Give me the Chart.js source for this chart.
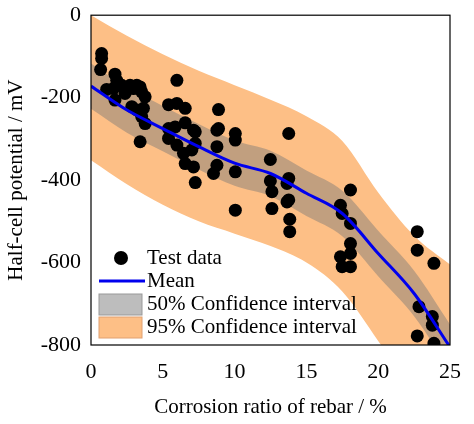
<!DOCTYPE html><html><head><script src="https://cdn.jsdelivr.net/npm/chart.js@4"></script>
<style>body{margin:0;background:#fff}#w{width:474px;height:424px}</style></head><body><div id="w"><canvas id="c"></canvas></div>
<script>
const curveX=[0,2.5,5,7.5,10,12.5,15,17.5,20,22.5,25];
const meanY=[-172,-230,-275,-319,-359,-384,-432,-481,-578,-675,-805];
const band50Half=55;
const upper95=[0,-50,-95,-135,-170,-205,-245,-305,-430,-535,-605];
const lower95=[-352,-410,-460,-500,-530,-560,-600,-670,-790,-920,-1050];
const testX=[0.74,0.74,0.67,1.67,1.79,1.09,1.56,1.67,2.14,2.37,2.72,2.95,3.19,3.42,3.53,3.77,2.84,3.19,3.65,3.53,3.77,3.42,5.98,5.40,5.98,6.56,5.40,5.86,5.40,5.98,6.56,6.44,7.02,7.14,7.26,7.26,6.56,7.14,7.26,8.88,8.77,8.88,8.77,8.77,8.53,10.05,10.05,10.05,10.05,12.49,12.49,12.6,12.6,13.77,13.77,13.65,13.77,13.65,13.84,13.84,17.37,17.49,17.37,17.49,18.07,18.07,18.07,18.07,18.07,22.72,22.72,23.88,22.84,22.72,23.77,23.77,23.88];
const testY=[-93,-105,-132,-143,-158,-180,-178,-206,-170,-190,-170,-178,-170,-174,-186,-198,-222,-230,-226,-246,-263,-307,-158,-217,-214,-226,-275,-271,-299,-315,-261,-335,-327,-279,-283,-311,-360,-368,-406,-229,-279,-275,-319,-364,-384,-287,-303,-380,-473,-350,-402,-428,-469,-287,-396,-408,-448,-453,-495,-525,-461,-481,-586,-610,-424,-505,-554,-578,-610,-525,-570,-602,-707,-778,-731,-752,-796];
const xTicks=[0,5,10,15,20,25], yTicks=[0,-200,-400,-600,-800];
const pts=(xs,ys)=>xs.map((x,i)=>({x,y:ys[i]}));
const F='"Liberation Serif", "Times New Roman", serif';
const legendPlugin={id:'lg',afterDatasetsDraw(ch){const c=ch.ctx,a=ch.chartArea;c.save();
 c.font='21px '+F;c.fillStyle='#000';c.textBaseline='middle';
 const x0=a.left+8,tx=147;let y=258;
 c.beginPath();c.arc(x0+22,y,7,0,2*Math.PI);c.fill();c.fillText('Test data',tx,y);
 y=281;c.strokeStyle='#0000ee';c.lineWidth=3;c.beginPath();c.moveTo(x0,y);c.lineTo(x0+46,y);c.stroke();c.fillStyle='#000';c.fillText('Mean',tx,y);
 y=304;c.fillStyle='#bdbdbd';c.fillRect(x0,y-10,43,21);c.strokeStyle='#999';c.lineWidth=1;c.strokeRect(x0,y-10,43,21);c.fillStyle='#000';c.fillText('50% Confidence interval',tx,y);
 y=327;c.fillStyle='#fdbf86';c.fillRect(x0,y-10,43,21);c.strokeStyle='#e0a070';c.strokeRect(x0,y-10,43,21);c.fillStyle='#000';c.fillText('95% Confidence interval',tx,y);
 c.strokeStyle='#000';c.lineWidth=1.2;c.strokeRect(a.left,a.top,a.right-a.left,a.bottom-a.top);c.restore();}};
new Chart(document.getElementById('c'),{type:'scatter',data:{datasets:[
 {order:6,data:pts(curveX,upper95),showLine:true,pointRadius:0,borderWidth:0,fill:'+1',backgroundColor:'#fdbf86',cubicInterpolationMode:'monotone'},
 {order:5,data:pts(curveX,lower95),showLine:true,pointRadius:0,borderWidth:0,fill:false,cubicInterpolationMode:'monotone'},
 {order:4,data:pts(curveX,meanY.map(v=>v+band50Half)),showLine:true,pointRadius:0,borderWidth:0,fill:'+1',backgroundColor:'rgba(120,120,120,0.45)',cubicInterpolationMode:'monotone'},
 {order:3,data:pts(curveX,meanY.map(v=>v-band50Half)),showLine:true,pointRadius:0,borderWidth:0,fill:false,cubicInterpolationMode:'monotone'},
 {order:2,data:pts(testX,testY),pointRadius:6.5,backgroundColor:'#000',borderWidth:0},
 {order:1,data:pts(curveX,meanY),showLine:true,pointRadius:0,borderColor:'#0000ee',borderWidth:3,fill:false,cubicInterpolationMode:'monotone'}
]},options:{responsive:true,maintainAspectRatio:false,animation:false,
 layout:{padding:{top:15,right:24}},
 plugins:{legend:{display:false},tooltip:{enabled:false}},
 scales:{
  x:{type:'linear',min:0,max:25,afterFit(s){s.height=79},afterBuildTicks(s){s.ticks=xTicks.map(v=>({value:v}))},grid:{display:false},border:{display:false},
   ticks:{color:'#000',font:{family:F,size:22},padding:6},title:{display:true,text:'Corrosion ratio of rebar / %',color:'#000',font:{family:F,size:21},padding:{top:4}}},
  y:{min:-800,max:0,afterFit(s){s.width=91},afterBuildTicks(s){s.ticks=yTicks.map(v=>({value:v}))},grid:{display:false},border:{display:false},
   ticks:{color:'#000',font:{family:F,size:22},padding:2},title:{display:true,text:'Half-cell potential / mV',color:'#000',font:{family:F,size:21},padding:{bottom:0}}}
 }},plugins:[legendPlugin]});
</script></body></html>
